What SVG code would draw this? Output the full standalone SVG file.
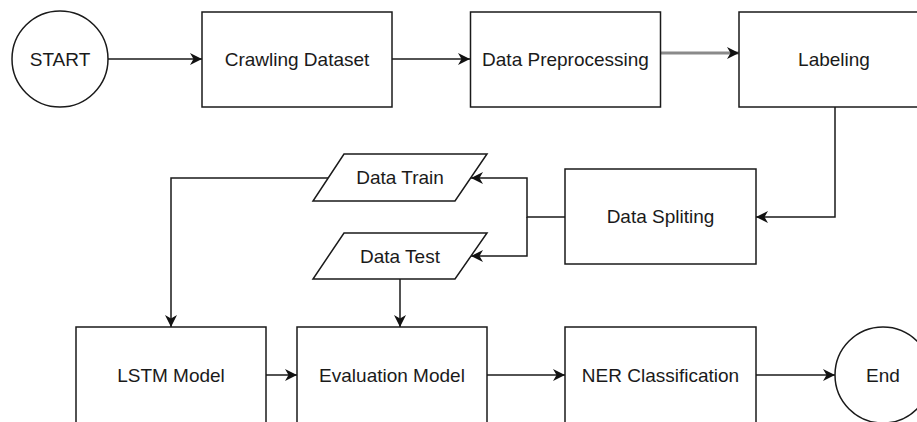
<svg xmlns="http://www.w3.org/2000/svg" width="917" height="422" viewBox="0 0 917 422">
  <style>
    .shape { fill: #ffffff; stroke: #1a1a1a; stroke-width: 1.5; }
    .label { font-family: "Liberation Sans", Arial, Helvetica, sans-serif; font-size: 19px; fill: #1a1a1a; text-anchor: middle; dominant-baseline: central; }
    .edge { fill: none; stroke: #1a1a1a; stroke-width: 1.5; marker-end: url(#arrow); }
    .edge-soft { fill: none; stroke: #8a8a8a; stroke-width: 3; marker-end: url(#arrow); }
  </style>
  <defs>
    <marker id="arrow" markerUnits="userSpaceOnUse" markerWidth="12" markerHeight="12" viewBox="0 0 12 12" refX="12" refY="6" orient="auto">
      <path d="M0,0 L12,6 L0,12 L3.5,6 Z" fill="#111111"/>
    </marker>
  </defs>
  <rect width="917" height="422" fill="#ffffff"/>

  <!-- connectors -->
  <g id="connectors">
    <path class="edge" d="M108,59 H202"/>
    <path class="edge" d="M392,59 H470"/>
    <path class="edge-soft" d="M661,53 H739"/>
    <path class="edge" d="M835,107 V217 H756"/>
    <path class="edge" d="M565,217 H527 V178 H471"/>
    <path class="edge" d="M527,217 V256 H471"/>
    <path class="edge" d="M328,178 H171 V327"/>
    <path class="edge" d="M400,279 V327"/>
    <path class="edge" d="M266,375 H297"/>
    <path class="edge" d="M487,375 H565"/>
    <path class="edge" d="M756,375 H835"/>
  </g>

  <!-- top row -->
  <g id="start">
    <circle class="shape" cx="60" cy="59" r="48"/>
    <text class="label" x="60" y="59">START</text>
  </g>
  <g id="crawling-dataset">
    <rect class="shape" x="202" y="12" width="190" height="95"/>
    <text class="label" x="297" y="59">Crawling Dataset</text>
  </g>
  <g id="data-preprocessing">
    <rect class="shape" x="470.5" y="12" width="190" height="95"/>
    <text class="label" x="565.5" y="59">Data Preprocessing</text>
  </g>
  <g id="labeling">
    <rect class="shape" x="739" y="12" width="190" height="95"/>
    <text class="label" x="834" y="59">Labeling</text>
  </g>

  <!-- middle row -->
  <g id="data-spliting">
    <rect class="shape" x="565" y="169" width="191" height="95"/>
    <text class="label" x="660.5" y="216.5">Data Spliting</text>
  </g>
  <g id="data-train">
    <polygon class="shape" points="344,154 487,154 455,201 313,201"/>
    <text class="label" x="400" y="177.5">Data Train</text>
  </g>
  <g id="data-test">
    <polygon class="shape" points="344,233 487,233 455,279 313,279"/>
    <text class="label" x="400" y="256">Data Test</text>
  </g>

  <!-- bottom row -->
  <g id="lstm-model">
    <rect class="shape" x="76" y="327" width="190" height="97"/>
    <text class="label" x="171" y="375">LSTM Model</text>
  </g>
  <g id="evaluation-model">
    <rect class="shape" x="297" y="327" width="190" height="97"/>
    <text class="label" x="392" y="375">Evaluation Model</text>
  </g>
  <g id="ner-classification">
    <rect class="shape" x="565" y="327" width="191" height="97"/>
    <text class="label" x="660.5" y="375">NER Classification</text>
  </g>
  <g id="end">
    <circle class="shape" cx="883" cy="375" r="48"/>
    <text class="label" x="883" y="375">End</text>
  </g>
</svg>
